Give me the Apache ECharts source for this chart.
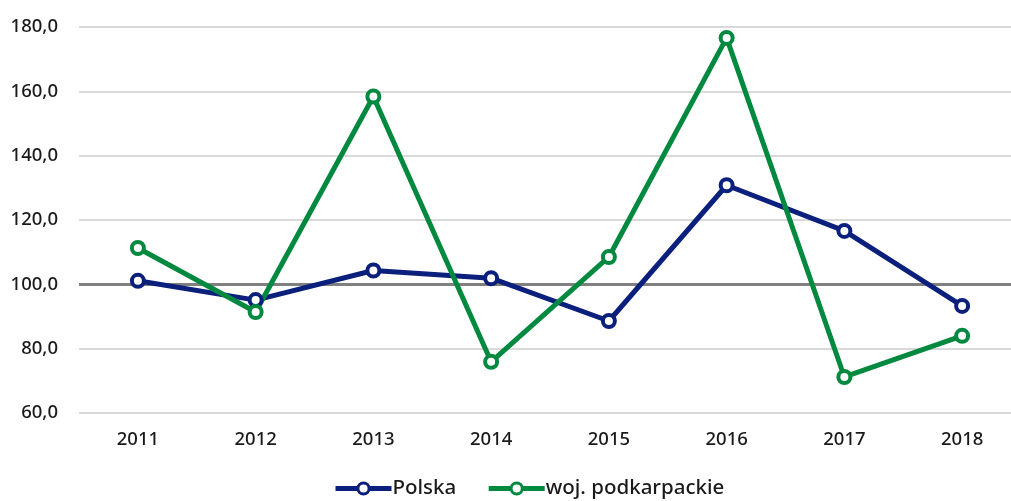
<!DOCTYPE html>
<html><head><meta charset="utf-8">
<script src="https://cdn.jsdelivr.net/npm/echarts@6/dist/echarts.min.js"></script>
<style>html,body{margin:0;padding:0;background:#fff}#c{width:1011px;height:501px}</style>
</head><body><div id="c"></div>
<script>
const categories = ['2011','2012','2013','2014','2015','2016','2017','2018'];
const polska = [101.1, 95.1, 104.3, 101.9, 88.6, 130.8, 116.6, 93.3];
const podkarpackie = [111.3, 91.4, 158.4, 75.9, 108.5, 176.6, 71.2, 84.0];
const seriesNames = ['Polska', 'woj. podkarpackie'];
const refValue = 100;

const chart = echarts.init(document.getElementById('c'));
const font = '"Noto Sans", sans-serif';
function mk(name, data, color, withMark) {
  const s = {
    name, type: 'line', data,
    symbol: 'circle', symbolSize: 12,
    lineStyle: {color, width: 5},
    itemStyle: {color: '#fff', borderColor: color, borderWidth: 4},
    emphasis: {disabled: true},
    z: 3
  };
  if (withMark) {
    s.markLine = {silent: true, symbol: 'none', label: {show: false},
      lineStyle: {color: '#808080', width: 3, type: 'solid'},
      data: [{yAxis: refValue}], z: 1};
  }
  return s;
}
chart.setOption({
  animation: false,
  color: ['#0b1f7c', '#00893f'],
  grid: {left: 79, width: 942, top: 27, height: 386, containLabel: false, outerBoundsMode: 'none'},
  legend: {
    top: 473, left: 328, itemWidth: 56, itemHeight: 14, itemGap: 30,
    lineStyle: {width: 5},
    itemStyle: {borderWidth: 3},
    textStyle: {fontFamily: font, fontSize: 20.5, fontWeight: 500, color: '#1a1a1a', padding: [0,0,0,-4]},
    data: seriesNames
  },
  xAxis: {
    type: 'category', data: categories, boundaryGap: true,
    axisLine: {show: false}, axisTick: {show: false},
    axisLabel: {fontFamily: font, fontSize: 18.5, fontWeight: 500, color: '#1a1a1a', margin: 17}
  },
  yAxis: {
    type: 'value', min: 60, max: 180, interval: 20,
    axisLine: {show: false}, axisTick: {show: false},
    splitLine: {lineStyle: {color: '#d9d9d9', width: 2}},
    axisLabel: {fontFamily: font, fontSize: 18.5, fontWeight: 500, color: '#1a1a1a', margin: 21,
      formatter: v => v.toFixed(1).replace('.', ',')}
  },
  series: [
    mk(seriesNames[0], polska, '#0b1f7c', true),
    mk(seriesNames[1], podkarpackie, '#00893f', false)
  ]
});
</script></body></html>
